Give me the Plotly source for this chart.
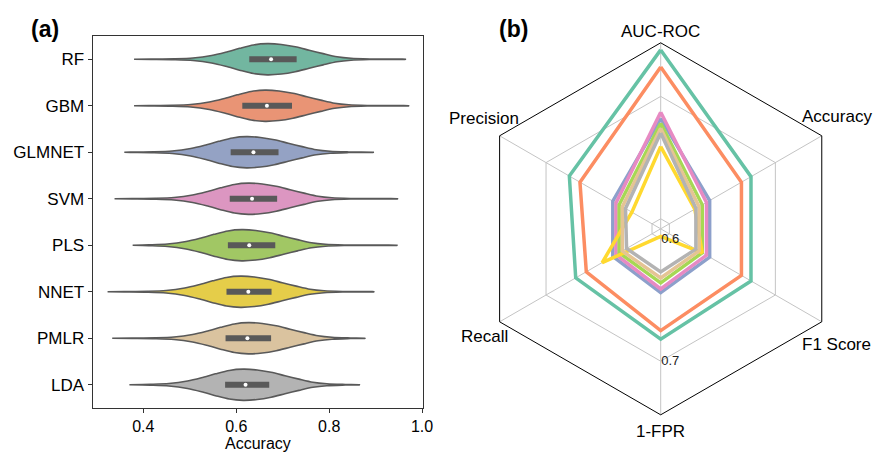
import plotly.graph_objects as go
import math

W, H = 886, 452
FONT = "Liberation Sans, Arial, Helvetica, sans-serif"

# ---------------- data: panel (a) violin summaries ----------------
models = ["RF", "GBM", "GLMNET", "SVM", "PLS", "NNET", "PMLR", "LDA"]
acc_min = [0.380, 0.380, 0.359, 0.338, 0.377, 0.323, 0.333, 0.370]
acc_max = [0.964, 0.971, 0.895, 0.947, 0.946, 0.896, 0.877, 0.865]
acc_q1 = [0.628, 0.613, 0.588, 0.586, 0.582, 0.579, 0.577, 0.576]
acc_med = [0.675, 0.666, 0.637, 0.634, 0.628, 0.626, 0.624, 0.620]
acc_q3 = [0.730, 0.720, 0.691, 0.688, 0.684, 0.676, 0.675, 0.671]
acc_peak = [0.667, 0.662, 0.622, 0.626, 0.612, 0.609, 0.626, 0.615]
# shared density profile (offset from peak, relative width)
prof_off = [-0.30, -0.25, -0.20, -0.16, -0.12, -0.09, -0.06, -0.03, 0.0,
            0.03, 0.06, 0.09, 0.12, 0.15, 0.18, 0.22, 0.28]
prof_w = [0.004, 0.012, 0.03, 0.08, 0.24, 0.45, 0.70, 0.92, 1.0,
          0.95, 0.80, 0.58, 0.36, 0.16, 0.06, 0.02, 0.006]

violin_fill = ["#72b6a0", "#e99475", "#94a2c4", "#dc96c1",
               "#a1c764", "#e5cd49", "#dac39f", "#b3b3b3"]

# ---------------- data: panel (b) radar ----------------
metrics = ["AUC-ROC", "Accuracy", "F1 Score", "1-FPR", "Recall", "Precision"]
radar = {
    "RF":     [0.738, 0.677, 0.677, 0.682, 0.672, 0.678],
    "GBM":    [0.724, 0.668, 0.668, 0.675, 0.662, 0.668],
    "GLMNET": [0.682, 0.638, 0.638, 0.644, 0.637, 0.637],
    "SVM":    [0.687, 0.635, 0.635, 0.641, 0.634, 0.634],
    "PLS":    [0.678, 0.631, 0.631, 0.636, 0.631, 0.631],
    "NNET":   [0.659, 0.624, 0.631, 0.598, 0.647, 0.619],
    "PMLR":   [0.674, 0.628, 0.628, 0.632, 0.628, 0.628],
    "LDA":    [0.670, 0.625, 0.625, 0.627, 0.624, 0.625],
}
line_colors = ["#66c2a5", "#fc8d62", "#8da0cb", "#e78ac3",
               "#a6d854", "#ffd92f", "#e5c494", "#b3b3b3"]
radial_ticks = [0.6, 0.7]
radial_range = [0.5918, 0.7438]
x_ticks = [0.4, 0.6, 0.8, 1.0]

OUT = "#595959"
HALF = 0.335

fig = go.Figure()

for i, m in enumerate(models):
    lo, hi, pk = acc_min[i], acc_max[i], acc_peak[i]
    xs, ws = [lo], [0.004]
    for o, w in zip(prof_off, prof_w):
        x = pk + o
        if lo < x < hi:
            xs.append(x)
            ws.append(w)
    xs.append(hi)
    ws.append(0.004)
    top = [i - HALF * w for w in ws]
    bot = [i + HALF * w for w in ws]
    fig.add_trace(go.Scatter(
        x=xs + xs[::-1], y=top + bot[::-1], mode="lines",
        fill="toself", fillcolor=violin_fill[i],
        line=dict(color=OUT, width=1.6, shape="spline", smoothing=0.8),
        xaxis="x", yaxis="y", showlegend=False, hoverinfo="skip"))
    fig.add_trace(go.Scatter(
        x=[acc_q1[i], acc_q3[i]], y=[i, i], mode="lines",
        line=dict(color=OUT, width=6), xaxis="x", yaxis="y",
        showlegend=False, hoverinfo="skip"))
    fig.add_trace(go.Scatter(
        x=[acc_med[i]], y=[i], mode="markers",
        marker=dict(color="white", size=4), xaxis="x", yaxis="y",
        showlegend=False))

for i, m in enumerate(models):
    vals = radar[m]
    fig.add_trace(go.Scatterpolar(
        r=vals + vals[:1], theta=metrics + metrics[:1], mode="lines",
        line=dict(color=line_colors[i], width=3.5), name=m,
        showlegend=False, subplot="polar"))

# geometry of the radar (pixels)
cx, cy, R = 660.7, 228.8, 186.0
pdom_x = [(cx - R) / W, (cx + R) / W]
pdom_y = [1 - (cy + R) / H, 1 - (cy - R) / H]

xdom = [92.7 / W, 423.0 / W]

annotations = [
    dict(text="<b>(a)</b>", x=45 / W, y=1 - 29 / H, xref="paper", yref="paper",
         xanchor="center", yanchor="middle",
         showarrow=False, font=dict(size=23, color="black", family=FONT)),
    dict(text="<b>(b)</b>", x=513 / W, y=1 - 29 / H, xref="paper", yref="paper",
         xanchor="center", yanchor="middle",
         showarrow=False, font=dict(size=23, color="black", family=FONT)),
    dict(text="Accuracy", x=(xdom[0] + xdom[1]) / 2, y=1 - 443 / H,
         xref="paper", yref="paper", xanchor="center", yanchor="middle",
         showarrow=False, font=dict(size=16, color="black", family=FONT)),
]
# label placement around the hexagon (radius in px, angle in degrees)
label_r = [197, 209, 210, 203, 207, 208]
label_ang = [90, 32.4, -33.3, -90, -148.6, 148.1]
for name, lr, la in zip(metrics, label_r, label_ang):
    ang = math.radians(la)
    px = cx + lr * math.cos(ang)
    py = cy - lr * math.sin(ang)
    annotations.append(dict(
        text=name, x=px / W, y=1 - py / H, xref="paper", yref="paper",
        xanchor="center", yanchor="middle",
        showarrow=False, font=dict(size=17, color="black", family=FONT)))

fig.update_layout(
    width=W, height=H, margin=dict(l=0, r=0, t=0, b=0, autoexpand=False),
    paper_bgcolor="white", plot_bgcolor="white",
    font=dict(family=FONT, color="black"),
    xaxis=dict(domain=xdom, range=[0.291, 1.002],
               automargin=False,
               tickvals=x_ticks, ticktext=[f"{v:.1f}" for v in x_ticks],
               showline=True, mirror=True, linecolor="#333", linewidth=1.2,
               ticks="outside", ticklen=4, tickcolor="#333",
               showgrid=False, zeroline=False,
               tickfont=dict(size=16, family=FONT)),
    yaxis=dict(domain=[1 - 408.0 / H, 1 - 36.0 / H], range=[7.5, -0.5],
               automargin=False,
               tickvals=list(range(len(models))), ticktext=models,
               showline=True, mirror=True, linecolor="#333", linewidth=1.2,
               ticks="outside", ticklen=4, tickcolor="#333",
               showgrid=False, zeroline=False,
               tickfont=dict(size=17, family=FONT)),
    polar=dict(
        domain=dict(x=pdom_x, y=pdom_y), gridshape="linear", bgcolor="white",
        angularaxis=dict(type="category", categoryarray=metrics,
                         rotation=90, direction="clockwise",
                         showline=True, linecolor="black", linewidth=1,
                         gridcolor="#c4c4c4", gridwidth=1, ticks="",
                         showticklabels=False),
        radialaxis=dict(range=radial_range, tickvals=radial_ticks,
                        ticktext=[f"{v:.1f}" for v in radial_ticks],
                        angle=-90, side="counterclockwise",
                        showline=False, gridcolor="#c4c4c4",
                        gridwidth=1, ticks="", tickangle=-90,
                        tickfont=dict(size=13, family=FONT, color="#222")),
    ),
    annotations=annotations,
)

fig.write_html("out.html", config={"displayModeBar": False},
               post_script="document.body.style.margin='0px';"
                           "document.body.style.overflow='hidden';")
